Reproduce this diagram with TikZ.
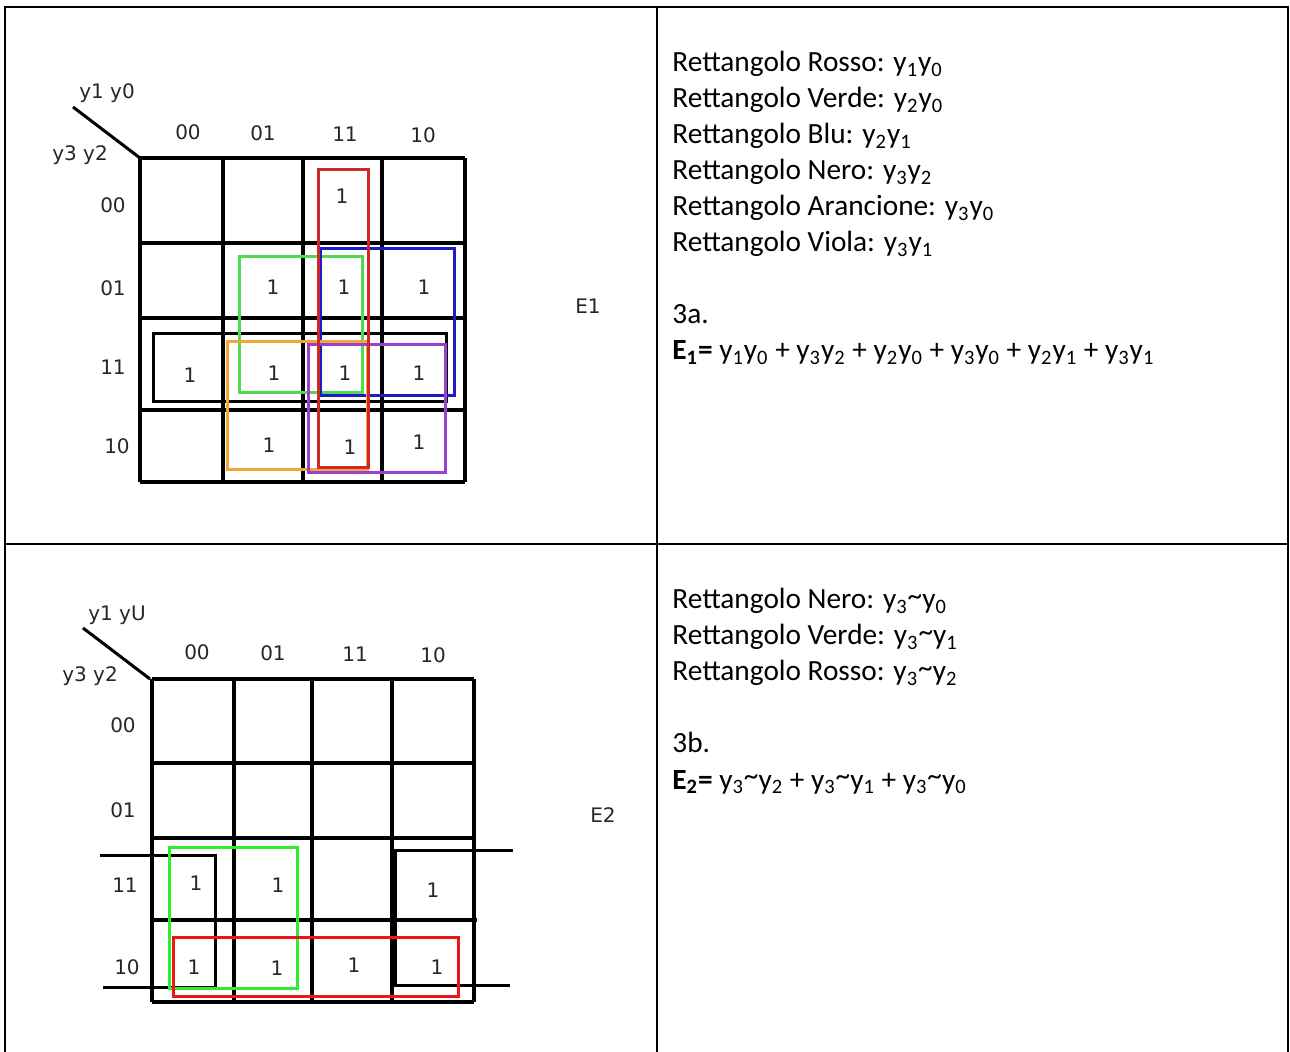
\documentclass[tikz,border=0pt]{standalone}
\usepackage{fontspec}
\setmainfont{Carlito}
\newfontfamily\kmapfont{DejaVu Sans}
\usetikzlibrary{positioning}
\definecolor{LoopRed}{HTML}{CC2A2A}
\definecolor{LoopGreen}{HTML}{4EDB4E}
\definecolor{LoopBlue}{HTML}{1C1CC4}
\definecolor{LoopOrange}{HTML}{F2A63A}
\definecolor{LoopPurple}{HTML}{9B3FD0}
\definecolor{LoopRedB}{HTML}{EE1515}
\definecolor{LoopGreenB}{HTML}{2EEE2E}
\newcommand{\nottilde}{\raisebox{0.25ex}{\textasciitilde}}

\begin{document}
\begin{tikzpicture}[
  x=0.5pt,y=-0.5pt,
  tableline/.style={
    line width=1pt,
    draw=black
  },
  kgrid/.style={
    line width=1.7pt,
    draw=black
  },
  kloop/.style={
    line width=1.5pt
  },
  klabel/.style={
    inner sep=0pt,
    font=\kmapfont\fontsize{10}{12}\selectfont,
    text=black!85
  },
  answer/.style={
    anchor=base west,
    inner sep=0pt,
    font=\fontsize{14.65}{18}\selectfont,
    text=black
  }
]
\useasboundingbox (0,0) rectangle (1290,1052);

% -------------------------------------------------
% Table frame
% -------------------------------------------------
\draw[tableline] (5,1052) |- (1288,7) -- (1288,1052);
\draw[tableline] (657,7) -- (657,1052);
\draw[tableline] (5,544) -- (1288,544);

% -------------------------------------------------
% Map E1
% -------------------------------------------------
\node[klabel] (hdA) at (107,93) {y1 y0};
\node[klabel] (vdA) at (80,155) {y3 y2};
\draw[line width=1.5pt] (73,107) -- (140,158);

\foreach \x in {140,223,303,382,465}
  \draw[kgrid] (\x,158) -- (\x,482);
\foreach \y in {158,243,318,482}
  \draw[kgrid] (140,\y) -- (465,\y);
\draw[kgrid] (140,410) -- (467,410);

\foreach \lab/\x/\y in {00/188/132,01/263/133,11/345/134,10/423/135}
  \node[klabel] (colA\lab) at (\x,\y) {\lab};
\foreach \lab/\x/\y in {00/113/205,01/113/288,11/113/367,10/117/446}
  \node[klabel] (rowA\lab) at (\x,\y) {\lab};

\foreach \x/\y [count=\i] in {342/196,273/287,344/287,424/287,
  190/375,274/373,345/373,419/373,269/445,350/447,419/442}
  \node[klabel] (oneA\i) at (\x,\y) {1};

% loops
\draw[kloop,draw=black] (153,334) rectangle (446,402);
\draw[kloop,draw=LoopGreen] (239,257) rectangle (362,393);
\draw[kloop,draw=LoopBlue] (320,249) rectangle (454,396);
\draw[kloop,draw=LoopOrange] (227,342) rectangle (367,470);
\draw[kloop,draw=LoopPurple] (308,345) rectangle (445,473);
\draw[kloop,draw=LoopRed] (318,170) rectangle (368,468);

\node[klabel] (eA) at (588,306) {E1};

% -------------------------------------------------
% Cover E1
% -------------------------------------------------
\node[answer] (rA1) at (672,72) {Rettangolo Rosso: y\textsubscript{1}y\textsubscript{0}};
\node[answer] (rA2) at (672,108) {Rettangolo Verde: y\textsubscript{2}y\textsubscript{0}};
\node[answer] (rA3) at (672,144) {Rettangolo Blu: y\textsubscript{2}y\textsubscript{1}};
\node[answer] (rA4) at (672,180) {Rettangolo Nero: y\textsubscript{3}y\textsubscript{2}};
\node[answer] (rA5) at (672,216) {Rettangolo Arancione: y\textsubscript{3}y\textsubscript{0}};
\node[answer] (rA6) at (672,252) {Rettangolo Viola: y\textsubscript{3}y\textsubscript{1}};
\node[answer] (qA) at (672,324) {3a.};
\node[answer] (fA) at (672,360)
  {\textbf{E\textsubscript{1}=} y\textsubscript{1}y\textsubscript{0} + y\textsubscript{3}y\textsubscript{2} + y\textsubscript{2}y\textsubscript{0} + y\textsubscript{3}y\textsubscript{0} + y\textsubscript{2}y\textsubscript{1} + y\textsubscript{3}y\textsubscript{1}};

% -------------------------------------------------
% Map E2
% -------------------------------------------------
\node[klabel] (hdB) at (117,615) {y1 yU};
\node[klabel] (vdB) at (90,676) {y3 y2};
\draw[line width=1.5pt] (83,628) -- (150,679);

\foreach \x in {152,234,312,392,474}
  \draw[kgrid] (\x,679) -- (\x,1002);
\foreach \y in {679,763,838,1002}
  \draw[kgrid] (152,\y) -- (474,\y);
\draw[kgrid] (152,920) -- (477,920);

\foreach \lab/\x/\y in {00/197/652,01/273/653,11/355/654,10/433/655}
  \node[klabel] (colB\lab) at (\x,\y) {\lab};
\foreach \lab/\x/\y in {00/123/725,01/123/810,11/125/885,10/127/967}
  \node[klabel] (rowB\lab) at (\x,\y) {\lab};

\foreach \x/\y [count=\i] in {196/883,278/885,433/890,
  194/967,277/968,354/965,437/967}
  \node[klabel] (oneB\i) at (\x,\y) {1};

% loops (black one wraps round the edges)
\draw[kloop,draw=black] (100,855) -- (215,855) -- (215,987) -- (103,987);
\draw[kloop,draw=black] (513,850) -- (395,850) -- (395,985) -- (510,985);
\draw[kloop,draw=LoopGreenB] (169,847) rectangle (297,988);
\draw[kloop,draw=LoopRedB] (173,937) rectangle (458,996);

\node[klabel] (eB) at (603,815) {E2};

% -------------------------------------------------
% Cover E2
% -------------------------------------------------
\node[answer] (rB1) at (672,609) {Rettangolo Nero: y\textsubscript{3}\nottilde y\textsubscript{0}};
\node[answer] (rB2) at (672,645) {Rettangolo Verde: y\textsubscript{3}\nottilde y\textsubscript{1}};
\node[answer] (rB3) at (672,681) {Rettangolo Rosso: y\textsubscript{3}\nottilde y\textsubscript{2}};
\node[answer] (qB) at (672,753) {3b.};
\node[answer] (fB) at (672,789)
  {\textbf{E\textsubscript{2}=} y\textsubscript{3}\nottilde y\textsubscript{2} + y\textsubscript{3}\nottilde y\textsubscript{1} + y\textsubscript{3}\nottilde y\textsubscript{0}};

\end{tikzpicture}
\end{document}
